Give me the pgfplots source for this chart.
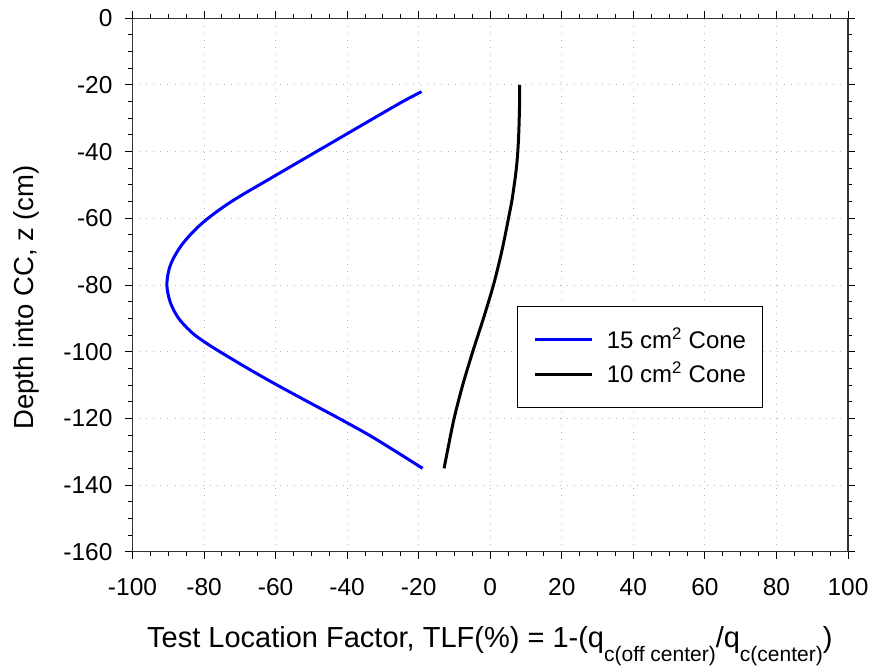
\documentclass[border=0pt]{standalone}
\usepackage{fontspec}
\setmainfont{Liberation Sans}
\usepackage{pgfplots}
\pgfplotsset{compat=1.18}
\begin{document}
\begin{tikzpicture}
\begin{axis}[
  name=ax,
  scale only axis,
  width=715.5pt, height=533.4pt,
  xmin=-100, xmax=100, ymin=-160, ymax=0,
  xtick={-100,-80,...,100}, ytick={-160,-140,...,0},
  minor x tick num=3, minor y tick num=3,
  tick align=outside,
  tick pos=both,
  xticklabel pos=left, yticklabel pos=left,
  major tick length=7pt, minor tick length=4pt,
  every tick/.style={black, line width=1pt},
  axis line style={black!80, line width=1.3pt},
  grid=major,
  major grid style={gray!55, dash pattern=on 1pt off 6pt, line width=1pt},
  /pgf/number format/assume math mode=true,
  ticklabel style={font=\fontsize{24.5}{28}\selectfont},
  xticklabel style={anchor=base, yshift=-36.5pt},
  yticklabel style={xshift=-9.5pt},
  xlabel={Test Location Factor, TLF(\%) = 1-(q\raisebox{-14pt}{\fontsize{21}{24}\selectfont c(off center)}/q\raisebox{-14pt}{\fontsize{21}{24}\selectfont c(center)})},
  xlabel style={font=\fontsize{29}{32}\selectfont, inner sep=0pt, at={(axis description cs:0.0203,-0.1805)}, anchor=base west},
  ylabel={Depth into CC, z (cm)},
  ylabel style={font=\fontsize{27.5}{30}\selectfont, inner sep=0pt, at={(axis description cs:-0.139,0.4766)}, anchor=base},
  legend style={at={(rel axis cs:0.5374,0.4606)}, anchor=north west, draw=black, line width=0.9pt,
    font=\fontsize{24}{28}\selectfont, inner xsep=16pt, inner ysep=15.65pt, row sep=0pt,
    nodes={inner sep=0pt, text height=25.95pt, text depth=8.75pt},
    /tikz/every odd column/.append style={column sep=13pt}},
  legend cell align=left,
  legend image code/.code={\draw[#1,line width=3pt] (0pt,0pt) -- (57.4pt,0pt); \pgfsetbaseline{-8.6pt}},
]
\addplot[blue, line width=3pt, smooth, tension=0.5] coordinates {
(-19.2,-22) (-24.5,-25) (-32.6,-30) (-40.6,-35) (-48.6,-40) (-56.6,-45) (-64.6,-50)
(-68.6,-52.5) (-72.4,-55) (-75.8,-57.5) (-78.9,-60) (-81.6,-62.5) (-83.9,-65) (-85.9,-67.5)
(-87.5,-70) (-88.8,-72.5) (-89.7,-75) (-90.2,-77.5) (-90.4,-80) (-90.1,-82.5) (-89.5,-85)
(-88.5,-87.5) (-87.1,-90) (-85.1,-92.5) (-82.6,-95) (-79.3,-97.5) (-75.6,-100) (-67.8,-105)
(-59.6,-110) (-51.0,-115) (-42.3,-120) (-33.9,-125) (-26.3,-130) (-18.9,-135)
};
\addlegendentry{15 cm\textsuperscript{2} Cone}
\addplot[black, line width=3pt, smooth, tension=0.5] coordinates {
(8.2,-20) (8.2,-25) (8.1,-30) (7.95,-35) (7.7,-40) (7.3,-45) (6.7,-50) (6.0,-55) (5.1,-60)
(3.2,-70) (0.9,-80) (-1.9,-90) (-4.9,-100) (-7.7,-110) (-10.1,-120) (-12.0,-130) (-12.9,-135)
};
\addlegendentry{10 cm\textsuperscript{2} Cone}
\end{axis}
\pgfresetboundingbox
\path[use as bounding box] ([xshift=-132.5pt,yshift=-118.3pt]ax.south west) rectangle ([xshift=739.5pt,yshift=551.7pt]ax.south west);
\end{tikzpicture}
\end{document}
